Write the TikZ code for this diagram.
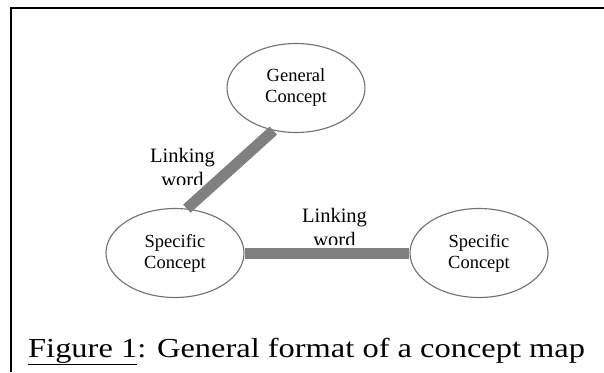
\documentclass[tikz,border=0pt]{standalone}
\usepackage{fontspec}
\usepackage{graphicx}
\setmainfont{Liberation Serif}
\usetikzlibrary{shapes.geometric}
\definecolor{ringgray}{RGB}{112,112,112}
\definecolor{bargray}{RGB}{128,128,128}
\tikzset{
  concept/.style={ellipse, draw=ringgray, line width=1.1pt, fill=white,
    minimum width=138pt, minimum height=89pt, inner sep=0pt, align=center,
    font=\fontsize{18.5}{21}\selectfont},
  linkbar/.style={draw=bargray, line width=11pt, line cap=butt},
  linklabel/.style={align=center, inner sep=0pt, font=\fontsize{20.5}{24}\selectfont},
  frameline/.style={draw=black, line width=2pt}
}
\begin{document}
\begin{tikzpicture}[x=1pt, y=-1pt]
\useasboundingbox (0,0) rectangle (604,372);
\coordinate (fa) at (11,372);
\coordinate (fb) at (11,8);
\coordinate (fc) at (606,8);
\draw[frameline] (fa) -- (fb) -- (fc);
\node[concept] (gen) at (296,88) {General\\Concept};
\node[concept] (spa) at (175,253) {Specific\\Concept};
\node[concept] (spb) at (479,253) {Specific\\Concept};
\draw[linkbar] (gen.242) -- (spa.75);
\draw[linkbar] (spa.east) -- (spb.west);
\begin{scope}
\clip (120,120) rectangle (250,184);
\node[linklabel, anchor=base] (la) at (182.5,162) {Linking};
\node[linklabel, anchor=base] (lb) at (182.5,186) {word};
\end{scope}
\begin{scope}
\clip (280,190) rectangle (400,244);
\node[linklabel, anchor=base] (lc) at (334.5,222) {Linking};
\node[linklabel, anchor=base] (ld) at (334.5,246) {word};
\end{scope}
\node[anchor=base west, inner sep=0pt, font=\fontsize{27.5}{32}\selectfont] (cap) at (28,357) {\scalebox{1.18}[1]{\underline{Figure 1}: General format of a concept map}};
\end{tikzpicture}
\end{document}
